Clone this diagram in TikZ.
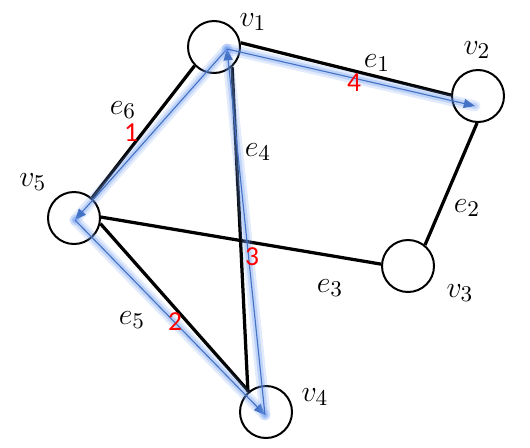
\documentclass[tikz,border=0pt]{standalone}
\usepackage{fontspec}
\newfontfamily\numfont{Carlito}
\usetikzlibrary{arrows.meta}
\definecolor{walkblue}{RGB}{68,114,196}
\definecolor{glowblue}{RGB}{110,155,240}

\tikzset{
  vertex/.style={circle, draw, line width=0.8pt, minimum size=20.8pt, inner sep=0pt},
  edge/.style={line width=1.3pt},
  walk/.style={draw=walkblue, line width=0.45pt, -{Triangle[length=4.5pt,width=3.6pt]},
    preaction={draw=glowblue, line width=4.4pt, opacity=0.2, line cap=round, -},
    preaction={draw=glowblue, line width=2.4pt, opacity=0.3, line cap=round, -}},
  lbl/.style={font=\fontsize{13}{15}\selectfont},
  walkno/.style={text=red, font=\numfont\fontsize{11}{13}\selectfont},
}

\begin{document}
\begin{tikzpicture}[x=0.4pt, y=-0.4pt]
        \useasboundingbox (0,0) rectangle (530,447);

        % Vertices
        \node[vertex] (v1) at (214,47) {};    % Top
        \node[vertex] (v2) at (478,96) {};    % Right
        \node[vertex] (v3) at (408,266) {};   % Middle right
        \node[vertex] (v4) at (266,412) {};   % Bottom
        \node[vertex] (v5) at (74,218) {};    % Left

        % Points where the walk starts and stops
        \coordinate (w1) at (227,49);
        \coordinate (w2) at (475,106);
        \coordinate (w4) at (265,415);
        \coordinate (w5) at (75,220);

        % Edges of the graph
        \draw[edge] (v1.9) -- (v2.178);
        \draw[edge] (v2.-92) -- (v3.51);
        \draw[edge] (v3.176) -- (v5.2);
        \draw[edge] (v1.-48) -- (v4.132);
        \draw[edge] (v5.-12) -- (v4.130);
        \draw[edge] (v5.48) -- (v1.-136);

        % The walk, step by step
        \draw[walk] (w1) -- (w5);
        \draw[walk] (w5) -- (w4);
        \draw[walk] (w4) -- (w1);
        \draw[walk] (w1) -- (w2);

        % Label vertices
        \node[lbl] (lv1) at (253,22) {$v_1$};
        \node[lbl] (lv2) at (477,50) {$v_2$};
        \node[lbl] (lv3) at (460,293) {$v_3$};
        \node[lbl] (lv4) at (315,397) {$v_4$};
        \node[lbl] (lv5) at (33,182) {$v_5$};

        % Label edges
        \node[lbl] (le1) at (377,63) {$e_1$};
        \node[lbl] (le2) at (467,208) {$e_2$};
        \node[lbl] (le3) at (330,288) {$e_3$};
        \node[lbl] (le4) at (258,152) {$e_4$};
        \node[lbl] (le5) at (132,320) {$e_5$};
        \node[lbl] (le6) at (123,110) {$e_6$};

        % Order of the steps
        \node[walkno] (n1) at (131,133) {1};
        \node[walkno] (n2) at (175,322) {2};
        \node[walkno] (n3) at (252,257) {3};
        \node[walkno] (n4) at (354,83) {4};
    \end{tikzpicture}
\end{document}
